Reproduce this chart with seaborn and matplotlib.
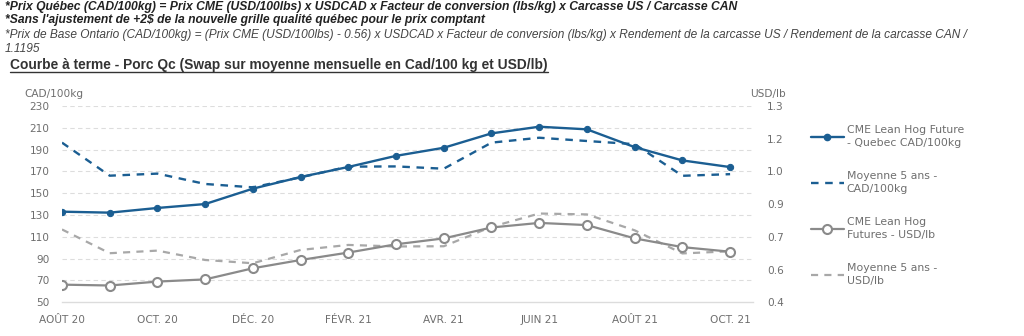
import numpy as np
import pandas as pd
import matplotlib
matplotlib.use("Agg")
import matplotlib.pyplot as plt
from matplotlib.lines import Line2D
import seaborn as sns

# ---------------- data ----------------
months = ["AOÛT 20", "SEPT. 20", "OCT. 20", "NOV. 20", "DÉC. 20", "JANV. 21", "FÉVR. 21",
          "MARS 21", "AVR. 21", "MAI 21", "JUIN 21", "JUIL. 21", "AOÛT 21", "SEPT. 21", "OCT. 21"]
quebec_cad = [133.1, 132.2, 136.5, 140.1, 154.2, 164.9, 174.1, 184.3, 191.7, 204.9,
              211.0, 208.6, 192.3, 180.1, 174.0]
avg5_cad = [196.4, 166.1, 168.0, 158.5, 155.4, 164.6, 174.4, 174.6, 172.5, 196.4,
            200.9, 197.9, 195.0, 166.0, 167.5]
cme_usd = [0.481, 0.477, 0.495, 0.505, 0.556, 0.594, 0.628, 0.666, 0.693, 0.743,
           0.764, 0.754, 0.693, 0.653, 0.632]
avg5_usd = [0.734, 0.625, 0.637, 0.594, 0.579, 0.640, 0.663, 0.656, 0.657, 0.746,
            0.807, 0.803, 0.730, 0.624, 0.634]
left_ticks = [50, 70, 90, 110, 130, 150, 170, 190, 210, 230]
right_ticks = [0.4, 0.55, 0.7, 0.85, 1.0, 1.15, 1.3]
right_tick_labels = ["0.4", "0.6", "0.7", "0.9", "1.0", "1.2", "1.3"]
series_labels = ["CME Lean Hog Future\n- Quebec CAD/100kg", "Moyenne 5 ans -\nCAD/100kg",
                 "CME Lean Hog\nFutures - USD/lb", "Moyenne 5 ans -\nUSD/lb"]
header_lines = [
    "*Prix Québec (CAD/100kg) = Prix CME (USD/100lbs) x USDCAD x Facteur de conversion (lbs/kg) x Carcasse US / Carcasse CAN",
    "*Sans l'ajustement de +2$ de la nouvelle grille qualité québec pour le prix comptant",
    "*Prix de Base Ontario (CAD/100kg) = (Prix CME (USD/100lbs) - 0.56) x USDCAD x Facteur de conversion (lbs/kg) x Rendement de la carcasse US / Rendement de la carcasse CAN /",
    "1.1195",
]
title_text = "Courbe à terme - Porc Qc (Swap sur moyenne mensuelle en Cad/100 kg et USD/lb)"

df = pd.DataFrame({"x": np.arange(len(months)), "quebec": quebec_cad, "avg5cad": avg5_cad,
                   "cme": cme_usd, "avg5usd": avg5_usd})

# ---------------- style ----------------
sns.set_theme(style="white")
plt.rcParams["font.family"] = ["DejaVu Sans"]
BLUE = "#1b5e92"
GRAY = "#8a8a8a"
GRAY_D = "#a8a8a8"
TXT = "#6e6e6e"
TFS = 7.6

fig = plt.figure(figsize=(10.24, 3.36), dpi=100)
ax = fig.add_axes([62 / 1024, 1 - 302.3 / 336, (753 - 62) / 1024, (302.3 - 106) / 336])
ax2 = ax.twinx()

sns.lineplot(data=df, x="x", y="quebec", ax=ax, color=BLUE, lw=1.7, marker="o",
             markersize=4.5, markeredgecolor=BLUE, markerfacecolor=BLUE, zorder=4)
sns.lineplot(data=df, x="x", y="avg5cad", ax=ax, color=BLUE, lw=1.7, dashes=False,
             linestyle=(0, (3.2, 2.8)), zorder=3)
sns.lineplot(data=df, x="x", y="cme", ax=ax2, color=GRAY, lw=1.6, marker="o",
             markersize=6.5, markeredgecolor=GRAY, markerfacecolor="white",
             markeredgewidth=1.5, zorder=4)
sns.lineplot(data=df, x="x", y="avg5usd", ax=ax2, color=GRAY_D, lw=1.6, dashes=False,
             linestyle=(0, (3.2, 2.8)), zorder=3)

ax.set_xlim(0, 14.48)
ax.set_ylim(50, 230)
ax2.set_ylim(0.4, 1.3)
ax.set_yticks(left_ticks)
ax.set_yticklabels([str(t) for t in left_ticks])
ax2.set_yticks(right_ticks)
ax2.set_yticklabels(right_tick_labels)
ax.set_xticks(np.arange(len(months)))
ax.set_xticklabels([m if i % 2 == 0 else "" for i, m in enumerate(months)])
for a in (ax, ax2):
    a.set_xlabel("")
    a.set_ylabel("")
    for s in a.spines.values():
        s.set_visible(False)
ax.spines["bottom"].set_visible(True)
ax.spines["bottom"].set_color("#dcdcdc")
ax.spines["bottom"].set_linewidth(1.0)

ax.tick_params(axis="y", length=0, pad=9, labelsize=TFS, labelcolor=TXT)
ax2.tick_params(axis="y", length=0, pad=10, labelsize=TFS, labelcolor=TXT)
ax.tick_params(axis="x", length=5, width=0.8, color="#dcdcdc", pad=4, labelsize=TFS,
               labelcolor=TXT)
for t in left_ticks[1:]:
    ax.axhline(t, color="#dddddd", lw=0.8, ls=(0, (4, 3)), zorder=0)

ax.text(-0.054, 1.035, "CAD/100kg", transform=ax.transAxes, ha="left", va="bottom",
        fontsize=TFS, color=TXT)
ax.text(0.9957, 1.035, "USD/lb", transform=ax.transAxes, ha="left", va="bottom",
        fontsize=TFS, color=TXT)

# legend
handles = [
    Line2D([], [], color=BLUE, lw=1.7, marker="o", markersize=4.5),
    Line2D([], [], color=BLUE, lw=1.7, linestyle=(0, (3.2, 2.8))),
    Line2D([], [], color=GRAY, lw=1.6, marker="o", markersize=6.5, markerfacecolor="white",
           markeredgewidth=1.5),
    Line2D([], [], color=GRAY_D, lw=1.6, linestyle=(0, (3.2, 2.8))),
]
leg = fig.legend(handles, series_labels, loc="upper left", bbox_to_anchor=(811 / 1024, 1 - 125 / 336),
                 frameon=False, fontsize=7.8, handlelength=3.0, handletextpad=0.3,
                 labelspacing=2.15, borderpad=0, borderaxespad=0)
for t in leg.get_texts():
    t.set_color(TXT)
    t.set_linespacing(1.35)

# header text
fig.text(5 / 1024, 1 - 7 / 336, header_lines[0], family="Liberation Sans", weight="bold",
         style="italic", fontsize=8.75, color="#222222", va="center")
fig.text(5 / 1024, 1 - 20.5 / 336, header_lines[1], family="Liberation Sans", weight="bold",
         style="italic", fontsize=8.75, color="#222222", va="center")
fig.text(5 / 1024, 1 - 35 / 336, header_lines[2], family="Liberation Sans",
         style="italic", fontsize=8.55, color="#444444", va="center")
fig.text(5 / 1024, 1 - 48.5 / 336, header_lines[3], family="Liberation Sans",
         style="italic", fontsize=8.55, color="#444444", va="center")
tt = fig.text(10 / 1024, 1 - 65 / 336, title_text, family="Liberation Sans", weight="bold",
              fontsize=9.9, color="#333333", va="center")
fig.canvas.draw()
bb = tt.get_window_extent().transformed(fig.transFigure.inverted())
fig.add_artist(Line2D([bb.x0, bb.x1], [bb.y0 + 0.001, bb.y0 + 0.001], color="#333333",
                      lw=1.0, transform=fig.transFigure))

fig.savefig("out.png", dpi=100)
